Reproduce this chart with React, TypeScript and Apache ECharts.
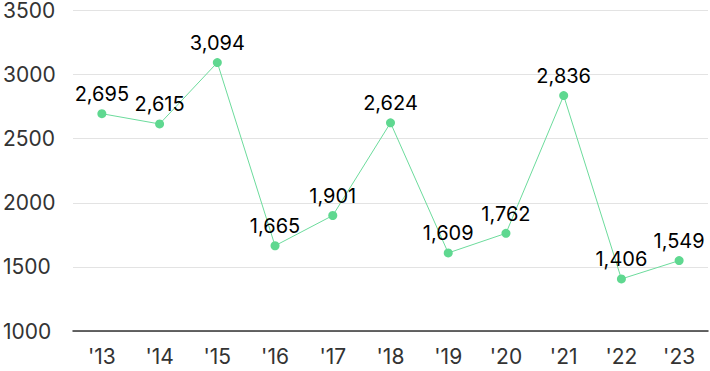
import React, { useEffect, useRef } from "react";
import * as echarts from "echarts";

const years = ["'13", "'14", "'15", "'16", "'17", "'18", "'19", "'20", "'21", "'22", "'23"];
const values = [2695, 2615, 3094, 1665, 1901, 2624, 1609, 1762, 2836, 1406, 1549];

export default function App() {
  const ref = useRef<HTMLDivElement>(null);
  useEffect(() => {
    const chart = echarts.init(ref.current!, null, { renderer: "svg" });
    chart.setOption({
      animation: false,
      grid: { left: 70, right: 2, top: 7, bottom: 40 },
      xAxis: {
        type: "category",
        data: years,
        axisTick: { show: false },
        axisLine: { lineStyle: { color: "#333", width: 1.5 } },
        axisLabel: { color: "#333", fontSize: 21, fontFamily: "Inter", margin: 15 },
      },
      yAxis: {
        type: "value",
        min: 1000,
        max: 3500,
        interval: 500,
        axisLine: { show: false },
        axisTick: { show: false },
        splitLine: { lineStyle: { color: "#e3e3e3" } },
        axisLabel: {
          color: "#333",
          fontSize: 21,
          fontFamily: "Inter",
          align: "left",
          margin: 70,
          formatter: (v: number) => String(v),
        },
      },
      series: [
        {
          type: "line",
          data: values,
          symbol: "circle",
          symbolSize: 9,
          lineStyle: { color: "#6cdb9c", width: 1 },
          itemStyle: { color: "#5fd890" },
          label: {
            show: true,
            position: "top",
            distance: 5,
            color: "#000",
            fontSize: 20,
            fontFamily: "Inter",
            formatter: (p: any) => p.value.toLocaleString("en-US"),
          },
        },
      ],
    });
    return () => chart.dispose();
  }, []);
  return <div ref={ref} style={{ width: 710, height: 371, position: "absolute", left: 0, top: 0 }} />;
}
